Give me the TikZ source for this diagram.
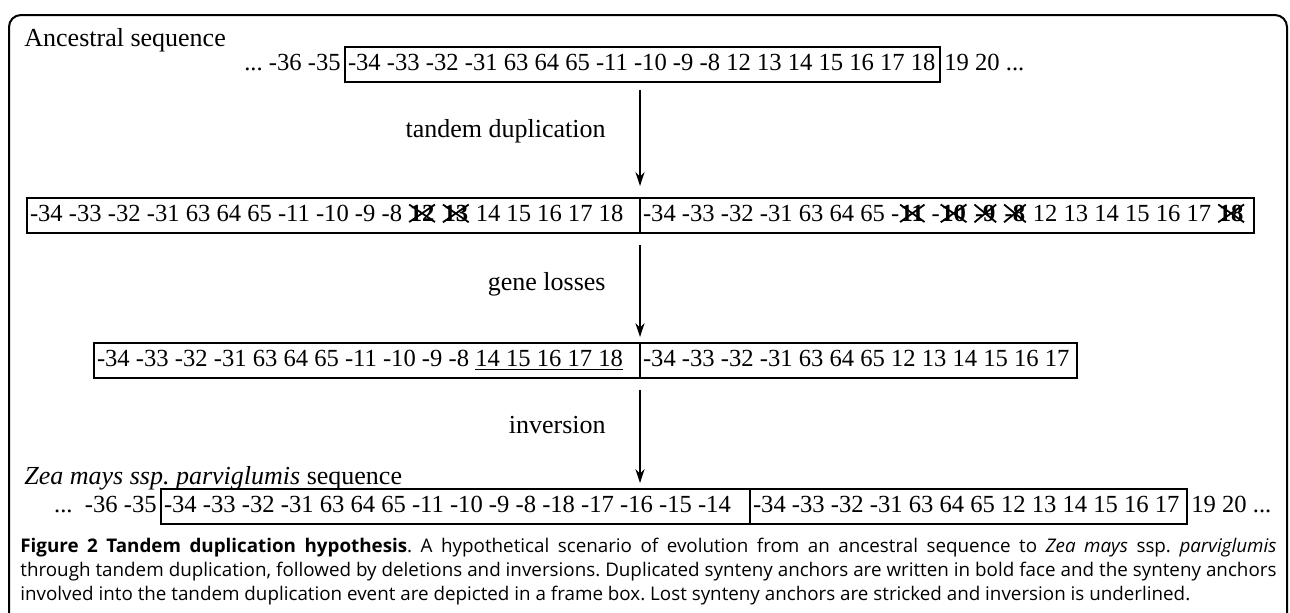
\documentclass[tikz,border=0pt]{standalone}
\usepackage{fontspec}
\setmainfont{Liberation Serif}
\newfontfamily\capfont{Open Sans}
\usetikzlibrary{arrows.meta,shapes.misc}
\frenchspacing
\newcommand\seqfont{\fontsize{12.3}{14.8}\selectfont}
\newcommand\labfont{\fontsize{13}{15.6}\selectfont}
\tikzset{
  seg/.style={draw, line width=0.6pt, minimum height=17.5pt, inner xsep=1.5pt, inner ysep=0pt, outer sep=0pt, font=\seqfont},
  plain/.style={inner xsep=2pt, inner ysep=0pt, font=\seqfont},
  lab/.style={inner sep=0pt, font=\labfont},
  arr/.style={-{Stealth[length=7pt,width=4.6pt]}, line width=0.6pt},
  capline/.style={inner sep=0pt, anchor=base west, font=\capfont\fontsize{9.4}{11.5}\selectfont},
  frame/.style={line width=1pt, rounded corners=6pt},
}
\newcommand\xo[1]{\tikz[baseline=(xo.base)]\node[draw,cross out,line width=0.9pt,inner sep=0.3pt,outer sep=0pt,minimum size=0pt,anchor=base,font=\seqfont\bfseries](xo){#1};}
\newcommand\segbox[5]{%
  \pgfmathsetmacro\segw{((#3)-(#2))*0.5-3}%
  \node[seg, anchor=west] (#1) at (#2,#4) {\makebox[\segw pt][l]{\strut #5}};}
\begin{document}
\begin{tikzpicture}[x=0.5pt,y=-0.5pt]
\useasboundingbox (0,0) rectangle (1290,612);
\clip (0,0) rectangle (1290,612);
\draw[frame] (9,700) -- (9,15) -- (1287,15) -- (1287,700);

% labels
\node[lab, anchor=base west] (anc) at (24,46) {Ancestral sequence};
\node[lab, anchor=base east] (l1) at (606,137) {tandem duplication};
\node[lab, anchor=base east] (l2) at (606,290) {gene losses};
\node[lab, anchor=base east] (l3) at (606,433) {inversion};
\node[lab, anchor=base west] (zea) at (24,484) {\textit{Zea mays ssp. parviglumis} sequence};

% row 1
\segbox{a1}{345}{940}{64.5}{-34 -33 -32 -31 63 64 65 -11 -10 -9 -8 12 13 14 15 16 17 18}
\node[plain, anchor=east] (a0) at (a1.west) {\strut... -36 -35};
\node[plain, anchor=west] (a2) at (a1.east) {\strut 19 20 ...};

% row 2
\segbox{b1}{27}{640}{215.5}{-34 -33 -32 -31 63 64 65 -11 -10 -9 -8 \xo{12} \xo{13} 14 15 16 17 18}
\segbox{b2}{640}{1254}{215.5}{-34 -33 -32 -31 63 64 65 -\xo{11} -\xo{10} \xo{-9} \xo{-8} 12 13 14 15 16 17 \xo{18}}

% row 3
\segbox{c1}{94}{640}{360.5}{-34 -33 -32 -31 63 64 65 -11 -10 -9 -8 \underline{14 15 16 17 18}}
\segbox{c2}{640}{1077}{360.5}{-34 -33 -32 -31 63 64 65 12 13 14 15 16 17}

% row 4
\segbox{d1}{161}{750}{506.5}{-34 -33 -32 -31 63 64 65 -11 -10 -9 -8 -18 -17 -16 -15 -14}
\segbox{d2}{750}{1187}{506.5}{-34 -33 -32 -31 63 64 65 12 13 14 15 16 17}
\draw[line width=1.3pt] (d1.north east) -- (d1.south east);
\node[plain, anchor=east] (d0) at (d1.west) {\strut...\ \ -36 -35};
\node[plain, anchor=west] (d3) at (d2.east) {\strut 19 20 ...};

% arrows
\coordinate (s1) at (640,90);  \coordinate (e1) at (640,186);
\coordinate (s2) at (640,245); \coordinate (e2) at (640,337);
\coordinate (s3) at (640,390); \coordinate (e3) at (640,483);
\draw[arr] (s1) -- (e1);
\draw[arr] (s2) -- (e2);
\draw[arr] (s3) -- (e3);

% caption
\node[capline] (cap1) at (20,552) {\makebox[628pt][s]{\textbf{Figure 2 Tandem duplication hypothesis}. A hypothetical scenario of evolution from an ancestral sequence to \textit{Zea mays} ssp. \textit{parviglumis}}};
\node[capline] (cap2) at (20,576) {\makebox[628pt][s]{through tandem duplication, followed by deletions and inversions. Duplicated synteny anchors are written in bold face and the synteny anchors}};
\node[capline] (cap3) at (20,600) {involved into the tandem duplication event are depicted in a frame box. Lost synteny anchors are stricked and inversion is underlined.};
\end{tikzpicture}
\end{document}
